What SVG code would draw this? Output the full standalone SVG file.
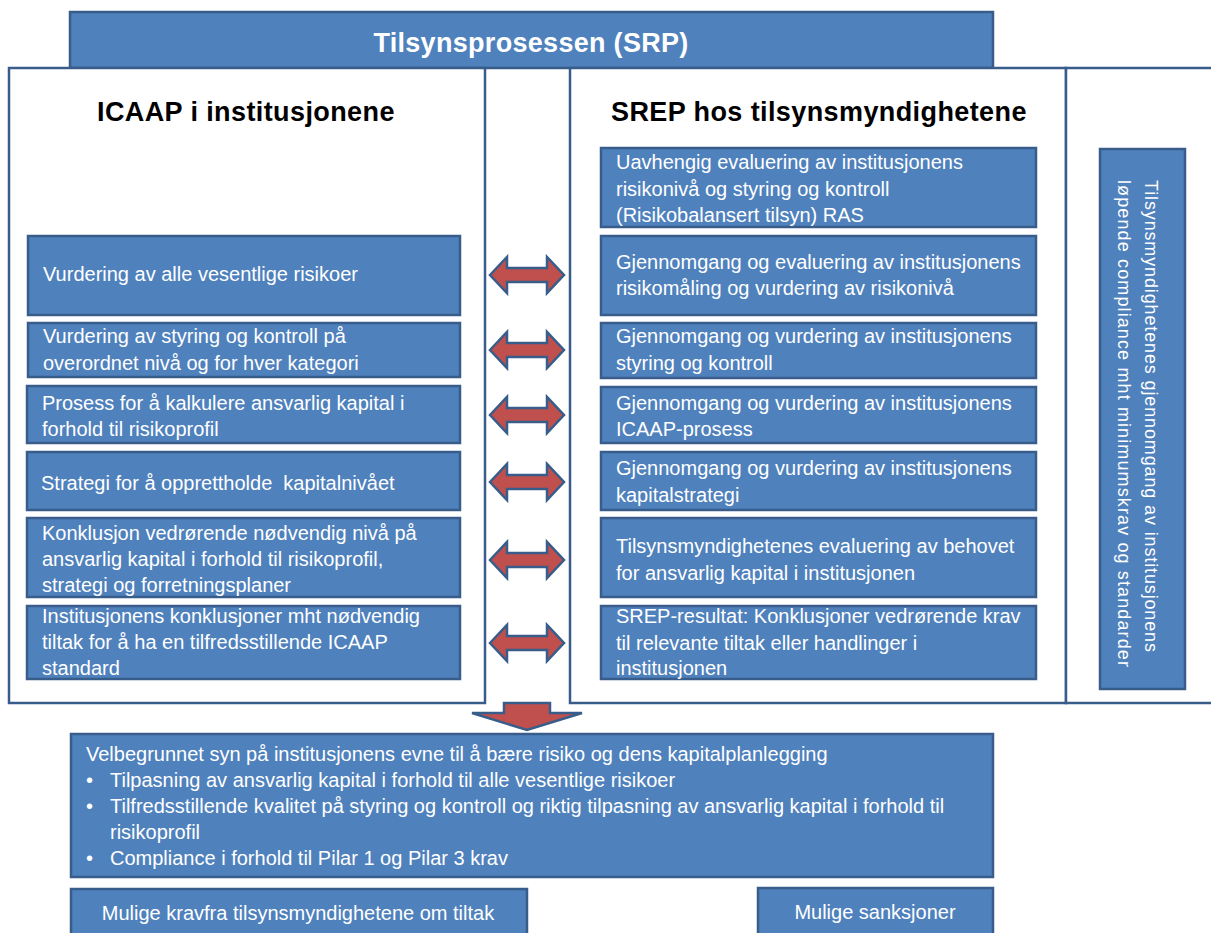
<svg xmlns="http://www.w3.org/2000/svg" width="1211" height="933" viewBox="0 0 1211 933">
<style>
.panel{fill:#ffffff;stroke:#385d8a;stroke-width:2.5}
.box{fill:#4f81bd;stroke:#385d8a;stroke-width:2.5}
.t{font-family:"Liberation Sans",Arial,sans-serif;font-size:20px;fill:#ffffff}
.h{font-family:"Liberation Sans",Arial,sans-serif;font-size:27px;font-weight:bold;fill:#000000;letter-spacing:0.4px}
.ht{font-family:"Liberation Sans",Arial,sans-serif;font-size:27px;font-weight:bold;fill:#ffffff;letter-spacing:0.3px}
.v{font-family:"Liberation Sans",Arial,sans-serif;font-size:18px;fill:#ffffff}
.arr{fill:#c0504d;stroke:#385d8a;stroke-width:2.5;stroke-linejoin:miter}
</style>
<rect width="1211" height="933" fill="#ffffff"/>

<g id="title">
<rect class="box" x="70" y="12" width="923" height="56"/>
<text class="ht" x="531" y="52" text-anchor="middle">Tilsynsprosessen (SRP)</text>
</g>

<g id="icaap-panel">
<rect class="panel" x="9" y="68" width="476" height="635"/>
<text class="h" x="97" y="121">ICAAP i institusjonene</text>
</g>
<g id="srep-panel">
<rect class="panel" x="570" y="68" width="496" height="635"/>
<text class="h" x="611" y="121">SREP hos tilsynsmyndighetene</text>
</g>
<g id="compliance-panel">
<rect class="panel" x="1066" y="68" width="160" height="635"/>
</g>

<g id="L1"><rect class="box" x="28" y="236" width="432" height="79"/>
<text class="t" x="43" y="281">Vurdering av alle vesentlige risikoer</text></g>
<g id="L2"><rect class="box" x="28" y="323" width="432" height="54"/>
<text class="t" x="43" y="343">Vurdering av styring og kontroll på</text>
<text class="t" x="43" y="370">overordnet nivå og for hver kategori</text></g>
<g id="L3"><rect class="box" x="27" y="386" width="433" height="57"/>
<text class="t" x="42" y="410">Prosess for å kalkulere ansvarlig kapital i</text>
<text class="t" x="42" y="436">forhold til risikoprofil</text></g>
<g id="L4"><rect class="box" x="27" y="452" width="433" height="58"/>
<text class="t" x="41" y="490" xml:space="preserve">Strategi for å opprettholde  kapitalnivået</text></g>
<g id="L5"><rect class="box" x="27" y="518" width="433" height="79"/>
<text class="t" x="42" y="540">Konklusjon vedrørende nødvendig nivå på</text>
<text class="t" x="42" y="566">ansvarlig kapital i forhold til risikoprofil,</text>
<text class="t" x="42" y="592">strategi og forretningsplaner</text></g>
<g id="L6"><rect class="box" x="27" y="606" width="433" height="73"/>
<text class="t" x="42" y="623">Institusjonens konklusjoner mht nødvendig</text>
<text class="t" x="42" y="649">tiltak for å ha en tilfredsstillende ICAAP</text>
<text class="t" x="42" y="675">standard</text></g>

<g id="R1"><rect class="box" x="601" y="148" width="435" height="79"/>
<text class="t" x="616" y="169">Uavhengig evaluering av institusjonens</text>
<text class="t" x="616" y="196">risikonivå og styring og kontroll</text>
<text class="t" x="616" y="222">(Risikobalansert tilsyn) RAS</text></g>
<g id="R2"><rect class="box" x="601" y="236" width="435" height="79"/>
<text class="t" x="616" y="269">Gjennomgang og evaluering av institusjonens</text>
<text class="t" x="616" y="295">risikomåling og vurdering av risikonivå</text></g>
<g id="R3"><rect class="box" x="601" y="323" width="435" height="55"/>
<text class="t" x="616" y="343">Gjennomgang og vurdering av institusjonens</text>
<text class="t" x="616" y="370">styring og kontroll</text></g>
<g id="R4"><rect class="box" x="601" y="387" width="435" height="56"/>
<text class="t" x="616" y="410">Gjennomgang og vurdering av institusjonens</text>
<text class="t" x="616" y="436">ICAAP-prosess</text></g>
<g id="R5"><rect class="box" x="601" y="452" width="435" height="58"/>
<text class="t" x="616" y="475">Gjennomgang og vurdering av institusjonens</text>
<text class="t" x="616" y="502">kapitalstrategi</text></g>
<g id="R6"><rect class="box" x="601" y="518" width="435" height="79"/>
<text class="t" x="616" y="553">Tilsynsmyndighetenes evaluering av behovet</text>
<text class="t" x="616" y="580">for ansvarlig kapital i institusjonen</text></g>
<g id="R7"><rect class="box" x="601" y="606" width="435" height="73"/>
<text class="t" x="616" y="623">SREP-resultat: Konklusjoner vedrørende krav</text>
<text class="t" x="616" y="650">til relevante tiltak eller handlinger i</text>
<text class="t" x="616" y="675">institusjonen</text></g>

<g id="V"><rect class="box" x="1100" y="149" width="85" height="540"/>
<text class="v" transform="translate(1145,180) rotate(90)" textLength="472" lengthAdjust="spacing">Tilsynsmyndighetenes gjennomgang av institusjonens</text>
<text class="v" transform="translate(1118,180) rotate(90)" textLength="487" lengthAdjust="spacing">løpende compliance mht minimumskrav og standarder</text></g>

<g id="connectors">
<path class="arr" d="M490,275 L507,257 L507,268 L547,268 L547,257 L564,275 L547,293 L547,282 L507,282 L507,293 Z"/>
<path class="arr" d="M490,350 L507,332 L507,343 L547,343 L547,332 L564,350 L547,368 L547,357 L507,357 L507,368 Z"/>
<path class="arr" d="M490,415 L507,397 L507,408 L547,408 L547,397 L564,415 L547,433 L547,422 L507,422 L507,433 Z"/>
<path class="arr" d="M490,482 L507,464 L507,475 L547,475 L547,464 L564,482 L547,500 L547,489 L507,489 L507,500 Z"/>
<path class="arr" d="M490,560 L507,542 L507,553 L547,553 L547,542 L564,560 L547,578 L547,567 L507,567 L507,578 Z"/>
<path class="arr" d="M490,643 L507,625 L507,636 L547,636 L547,625 L564,643 L547,661 L547,650 L507,650 L507,661 Z"/>
<path class="arr" d="M504,703 L550,703 L550,713 L582,713 L527,730 L472,713 L504,713 Z"/>
</g>

<g id="result"><rect class="box" x="71" y="734" width="922" height="143"/>
<text class="t" x="86" y="761">Velbegrunnet syn på institusjonens evne til å bære risiko og dens kapitalplanlegging</text>
<text class="t" x="86" y="787">•</text>
<text class="t" x="110" y="787">Tilpasning av ansvarlig kapital i forhold til alle vesentlige risikoer</text>
<text class="t" x="86" y="813">•</text>
<text class="t" x="110" y="813">Tilfredsstillende kvalitet på styring og kontroll og riktig tilpasning av ansvarlig kapital i forhold til</text>
<text class="t" x="110" y="839">risikoprofil</text>
<text class="t" x="86" y="865">•</text>
<text class="t" x="110" y="865">Compliance i forhold til Pilar 1 og Pilar 3 krav</text></g>

<g id="krav"><rect class="box" x="71" y="889" width="456" height="60"/>
<text class="t" x="298" y="920" text-anchor="middle">Mulige kravfra tilsynsmyndighetene om tiltak</text></g>
<g id="sanksjoner"><rect class="box" x="758" y="888" width="235" height="60"/>
<text class="t" x="875" y="919" text-anchor="middle">Mulige sanksjoner</text></g>
</svg>
